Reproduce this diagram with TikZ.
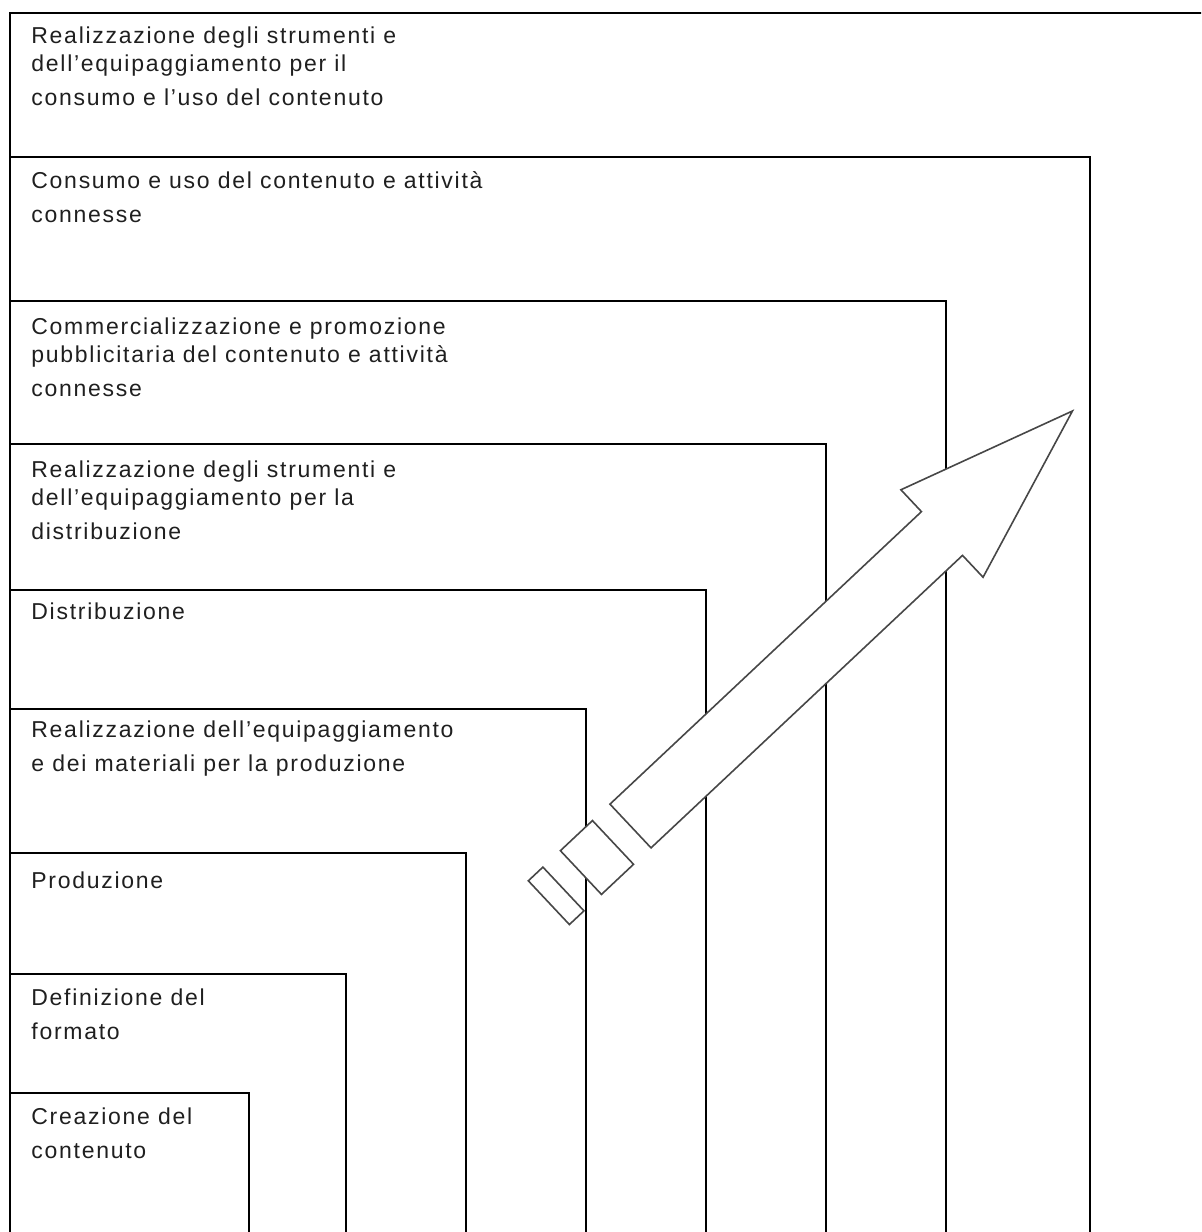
\documentclass[tikz,border=0pt]{standalone}
\usepackage{fontspec}
\setmainfont{Liberation Sans}[LetterSpace=7.5]
\newcommand\boxlines[1]{\begin{tabular}[t]{@{}l@{}}#1\end{tabular}}
\begin{document}
\begin{tikzpicture}[x=0.5pt,y=-0.5pt,
  frame/.style={draw=black,line width=1pt},
  lbl/.style={anchor=base west,inner sep=0pt,font=\fontsize{11.5}{17}\selectfont,text=black!88},
  blockarrow/.style={draw=black!72,line width=0.8pt,fill=white,line join=miter}]
\useasboundingbox (0,0) rectangle (1201,1232);
\begin{scope}
\clip (0,0) rectangle (1201,1232);
% nested frames (left and bottom edges shared)
\draw[frame] (10,1240) -- (10,13) -- (1210,13);
\draw[frame] (10,157) -- (1090,157) -- (1090,1240);
\draw[frame] (10,301) -- (946,301) -- (946,1240);
\draw[frame] (10,444) -- (826,444) -- (826,1240);
\draw[frame] (10,590) -- (706,590) -- (706,1240);
\draw[frame] (10,709) -- (586,709) -- (586,1240);
\draw[frame] (10,853) -- (466,853) -- (466,1240);
\draw[frame] (10,974) -- (346,974) -- (346,1240);
\draw[frame] (10,1093) -- (249,1093) -- (249,1240);
\end{scope}
% labels
\node[lbl] (t1) at (31,43) {\boxlines{Realizzazione degli strumenti e\\[-3pt]dell'equipaggiamento per il\\consumo e l'uso del contenuto}};
\node[lbl] (t2) at (31,188) {\boxlines{Consumo e uso del contenuto e attività\\connesse}};
\node[lbl] (t3) at (31,334) {\boxlines{Commercializzazione e promozione\\[-3pt]pubblicitaria del contenuto e attività\\connesse}};
\node[lbl] (t4) at (31,477) {\boxlines{Realizzazione degli strumenti e\\[-3pt]dell'equipaggiamento per la\\distribuzione}};
\node[lbl] (t5) at (31,619) {Distribuzione};
\node[lbl] (t6) at (31,737) {\boxlines{Realizzazione dell'equipaggiamento\\e dei materiali per la produzione}};
\node[lbl] (t7) at (31,888) {Produzione};
\node[lbl] (t8) at (31,1005) {\boxlines{Definizione del\\formato}};
\node[lbl] (t9) at (31,1124) {\boxlines{Creazione del\\contenuto}};
% block arrow with broken tail
\begin{scope}[shift={(630.5,826)},rotate=43.2]
\draw[blockarrow] (0,-30) -- (427.3,-30) -- (427.3,-60) -- (606.3,0) -- (427.3,60) -- (427.3,30) -- (0,30) -- cycle;
\draw[blockarrow] (-68,-30) rectangle (-24,30);
\draw[blockarrow] (-112,-30) rectangle (-92,30);
\end{scope}
\end{tikzpicture}
\end{document}
